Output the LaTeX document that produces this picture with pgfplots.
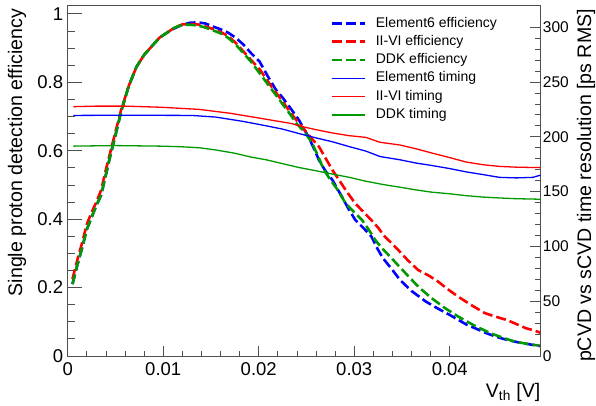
\documentclass[border=0pt]{standalone}
\usepackage{fontspec}
\setmainfont{Liberation Sans}
\usepackage{pgfplots}
\usepgfplotslibrary{groupplots}
\pgfplotsset{compat=1.18}
\definecolor{eblue}{RGB}{0,0,255}
\definecolor{ered}{RGB}{255,0,0}
\definecolor{egreen}{RGB}{0,153,0}
\definecolor{frame}{RGB}{80,80,80}

% efficiency tables
\pgfplotstableread{
v e
0.0005 0.21
0.0010 0.265
0.0015 0.315
0.0020 0.37
0.0025 0.405
0.0030 0.44
0.0035 0.47
0.0040 0.53
0.0045 0.59
0.0050 0.645
0.0056 0.715
0.0064 0.79
0.0072 0.845
0.0080 0.88
0.0088 0.905
0.0096 0.93
0.0104 0.945
0.0112 0.958
0.0120 0.968
0.0128 0.974
0.0136 0.975
0.0144 0.972
0.0152 0.963
0.0160 0.955
0.0168 0.945
0.0176 0.93
0.0184 0.91
0.0192 0.885
0.0201 0.86
0.0209 0.82
0.0218 0.778
0.0225 0.755
0.0232 0.729
0.0242 0.69
0.0252 0.641
0.0258 0.605
0.0263 0.573
0.0270 0.54
0.0277 0.515
0.0287 0.466
0.0294 0.43
0.0301 0.398
0.0311 0.37
0.0318 0.349
0.0324 0.315
0.0330 0.286
0.0339 0.255
0.0348 0.222
0.0360 0.19
0.0375 0.159
0.0388 0.138
0.0400 0.12
0.0418 0.091
0.0430 0.077
0.0439 0.066
0.0450 0.055
0.0460 0.047
0.0475 0.038
0.0488 0.032
0.0495 0.029
}\effEsix
\pgfplotstableread{
v e
0.0005 0.225
0.0010 0.28
0.0015 0.33
0.0020 0.385
0.0025 0.42
0.0030 0.45
0.0035 0.485
0.0040 0.545
0.0045 0.60
0.0050 0.655
0.0056 0.72
0.0064 0.79
0.0072 0.845
0.0080 0.88
0.0088 0.905
0.0096 0.93
0.0104 0.945
0.0112 0.96
0.0120 0.969
0.0128 0.971
0.0136 0.969
0.0144 0.963
0.0152 0.956
0.0160 0.947
0.0168 0.935
0.0176 0.915
0.0184 0.89
0.0192 0.865
0.0201 0.838
0.0209 0.805
0.0218 0.77
0.0226 0.74
0.0235 0.705
0.0245 0.67
0.0254 0.64
0.0263 0.612
0.0270 0.578
0.0277 0.544
0.0284 0.515
0.0291 0.485
0.0301 0.446
0.0311 0.417
0.0318 0.397
0.0325 0.375
0.0332 0.349
0.0339 0.33
0.0346 0.31
0.0356 0.28
0.0367 0.251
0.0378 0.235
0.0388 0.217
0.0398 0.195
0.0409 0.173
0.0423 0.148
0.0437 0.125
0.0448 0.115
0.0460 0.105
0.0470 0.093
0.0480 0.081
0.0488 0.075
0.0495 0.068
}\effIIVI
\pgfplotstableread{
v e
0.0005 0.21
0.0010 0.265
0.0015 0.315
0.0020 0.37
0.0025 0.405
0.0030 0.44
0.0035 0.47
0.0040 0.53
0.0045 0.59
0.0050 0.645
0.0056 0.715
0.0064 0.79
0.0072 0.845
0.0080 0.88
0.0088 0.905
0.0096 0.93
0.0104 0.945
0.0112 0.96
0.0120 0.968
0.0128 0.968
0.0136 0.966
0.0144 0.96
0.0152 0.952
0.0160 0.943
0.0168 0.93
0.0176 0.91
0.0184 0.885
0.0192 0.86
0.0200 0.83
0.0208 0.80
0.0216 0.77
0.0224 0.74
0.0232 0.71
0.0240 0.678
0.0248 0.655
0.0256 0.622
0.0262 0.585
0.0268 0.545
0.0275 0.515
0.0282 0.488
0.0291 0.446
0.0300 0.42
0.0308 0.398
0.0315 0.37
0.0322 0.339
0.0329 0.315
0.0336 0.295
0.0346 0.265
0.0357 0.232
0.0368 0.20
0.0381 0.169
0.0395 0.14
0.0409 0.115
0.0425 0.09
0.0443 0.066
0.0455 0.054
0.0468 0.042
0.0480 0.036
0.0494 0.030
}\effDDK
% timing tables (ps RMS)
\pgfplotstableread{
v t
0.0006 219.5
0.0060 219.7
0.0130 219.5
0.0155 218
0.0184 214
0.0208 210
0.0225 207
0.0242 203
0.0260 199
0.0277 195.5
0.0295 191
0.0312 187
0.0327 182
0.0348 179
0.0365 176
0.0380 174
0.0400 171
0.0417 168
0.0435 165.5
0.0452 163
0.0470 162.5
0.0487 163
0.0495 165
}\timEsix
\pgfplotstableread{
v t
0.0006 227.5
0.0030 228
0.0060 228
0.0097 227
0.0138 225
0.0170 221.5
0.0201 217
0.0235 212
0.0242 210
0.0260 206.5
0.0277 203.5
0.0295 201
0.0312 199.5
0.0327 195
0.0348 192.5
0.0365 189
0.0380 185.5
0.0400 181
0.0417 177
0.0435 174.5
0.0452 173
0.0470 172.3
0.0487 172
0.0495 172
}\timIIVI
\pgfplotstableread{
v t
0.0006 191.5
0.0050 192
0.0096 191.5
0.0117 191
0.0138 190
0.0155 188
0.0175 185
0.0192 181.5
0.0208 179
0.0225 175.5
0.0242 172
0.0260 169
0.0277 166
0.0295 163
0.0312 159.5
0.0330 156.5
0.0348 154
0.0365 151.5
0.0380 149.6
0.0400 148
0.0417 146.3
0.0435 145
0.0452 144.2
0.0470 143.5
0.0487 143.2
0.0495 143
}\timDDK

\pgfplotsset{
  base/.style={
    scale only axis, width=472.8pt, height=350.7pt,
    at={(0pt,0pt)}, anchor=south west,
    xmin=0, xmax=0.0495,
    tick align=inside,
    axis line style={frame, line width=0.8pt},
    every tick/.style={frame, line width=0.8pt},
    scaled ticks=false,
    /pgf/number format/assume math mode=true,
    clip=false,
  },
  effline/.style={line width=2.6pt, dash pattern=on 10pt off 4pt},
  timline/.style={line width=1.3pt},
}

\begin{document}
\begin{tikzpicture}
\path[use as bounding box] (-67.7pt,-50pt) rectangle (528.3pt,356pt);
% left axis: y ticks and efficiency curves
\begin{axis}[base,
  ymin=0, ymax=1.025,
  xtick=\empty,
  ytick={0,0.2,0.4,0.6,0.8,1},
  minor y tick num=3,
  ytick pos=left,
  major tick length=14pt, minor tick length=7pt,
  yticklabel style={font=\fontsize{18.5}{20}\selectfont, inner sep=0pt, xshift=-4.4pt,
     /pgf/number format/fixed},
  ylabel={Single proton detection efficiency},
  ylabel style={font=\fontsize{19.6}{22}\selectfont, at={(axis description cs:-0.127,0.99)}, anchor=north east, inner sep=0pt},
]
\addplot[effline, eblue] table[x=v,y=e] {\effEsix};
\addplot[effline, ered] table[x=v,y=e] {\effIIVI};
\addplot[effline, egreen] table[x=v,y=e] {\effDDK};
\end{axis}
% x ticks
\begin{axis}[base,
  ymin=0, ymax=1.025,
  ytick=\empty,
  xtick={0,0.01,0.02,0.03,0.04},
  xticklabels={0,0.01,0.02,0.03,0.04},
  minor x tick num=4,
  xtick pos=bottom,
  major tick length=10pt, minor tick length=5pt,
  xticklabel style={font=\fontsize{18.5}{20}\selectfont, inner sep=0pt, yshift=-6.5pt},
  xlabel={V\textsubscript{th} [V]},
  xlabel style={font=\fontsize{19.6}{22}\selectfont, at={(axis description cs:1,-0.117)}, anchor=base east, inner sep=0pt},
]
\end{axis}
% right axis: timing
\begin{axis}[base,
  ymin=0, ymax=320,
  axis x line=none,
  axis y line*=right,
  ytick={0,50,100,150,200,250,300},
  minor y tick num=4,
  major tick length=10.7pt, minor tick length=5.7pt,
  yticklabel style={font=\fontsize{15.5}{18}\selectfont, inner sep=0pt, xshift=2.2pt},
  ylabel={pCVD vs sCVD time resolution [ps RMS]},
  ylabel style={font=\fontsize{19.6}{22}\selectfont, at={(axis description cs:1.116,0.99)}, anchor=south east, inner sep=0pt},
  legend style={draw=none, fill=none, at={(axis description cs:0.5548,0.968)}, anchor=north west,
     font=\fontsize{14}{17}\selectfont, inner sep=0pt, row sep=5pt, column sep=10pt,
     nodes={inner sep=0pt, text height=10.3pt, text depth=3pt}},
  legend cell align=left,
  legend image code/.code={\draw[#1] (0pt,0pt) -- (33pt,0pt);},
]
\addlegendimage{effline, eblue}
\addlegendentry{Element6 efficiency}
\addlegendimage{effline, ered}
\addlegendentry{II-VI efficiency}
\addlegendimage{effline, egreen}
\addlegendentry{DDK efficiency}
\addplot[timline, eblue] table[x=v,y=t] {\timEsix};
\addlegendentry{Element6 timing}
\addplot[timline, ered] table[x=v,y=t] {\timIIVI};
\addlegendentry{II-VI timing}
\addplot[timline, egreen] table[x=v,y=t] {\timDDK};
\addlegendentry{DDK timing}
\end{axis}
\end{tikzpicture}
\end{document}
